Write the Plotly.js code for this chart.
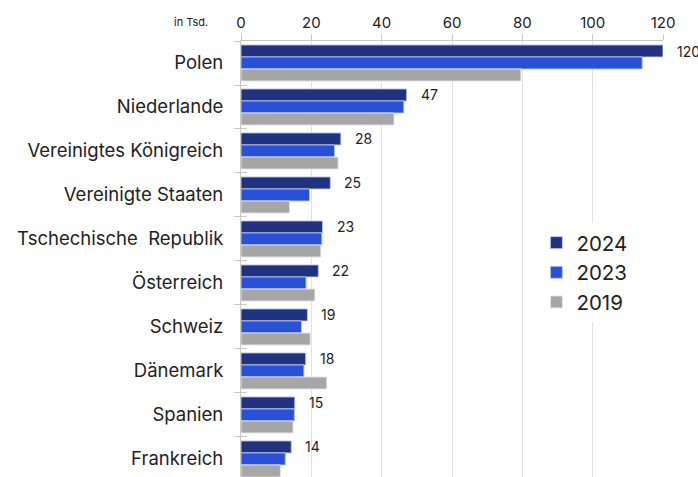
<!DOCTYPE html>
<html>
<head>
<meta charset="utf-8">
<script src="https://cdn.plot.ly/plotly-3.0.1.min.js"></script>
<style>html,body{margin:0;padding:0;background:#fff;}#chart{width:698px;height:477px;}</style>
</head>
<body>
<div id="chart"></div>
<script>
const categories = ["Polen","Niederlande","Vereinigtes Königreich","Vereinigte Staaten","Tschechische  Republik","Österreich","Schweiz","Dänemark","Spanien","Frankreich"];
const v2024 = [120, 47.1, 28.4, 25.4, 23.2, 22.0, 18.9, 18.4, 15.3, 14.3];
const v2023 = [114.1, 46.3, 26.6, 19.5, 23.0, 18.5, 17.2, 17.9, 15.2, 12.6];
const v2019 = [79.6, 43.5, 27.6, 13.8, 22.7, 21.0, 19.7, 24.4, 14.8, 11.2];
const labels2024 = ["120","47","28","25","23","22","19","18","15","14"];
const xTicks = [0, 20, 40, 60, 80, 100, 120];

const FONT = "Inter, 'Noto Sans', sans-serif";
const edge = {color: "rgba(190,200,235,0.9)", width: 1};

const traces = [
  {type:"bar", orientation:"h", name:"2024", x:v2024, y:categories, marker:{color:"#1f3380", line:edge}, hoverinfo:"x"},
  {type:"bar", orientation:"h", name:"2023", x:v2023, y:categories, marker:{color:"#2851d8", line:edge}, hoverinfo:"x"},
  {type:"bar", orientation:"h", name:"2019", x:v2019, y:categories, marker:{color:"#a6a6a6", line:{color:"rgba(230,230,230,0.9)", width:1}}, hoverinfo:"x"},
  {type:"bar", orientation:"h", x:categories.map(()=>0), y:categories, yaxis:"y2", showlegend:false, hoverinfo:"skip", marker:{opacity:0, line:{width:0}}}
];

const annotations = categories.map((c,i)=>({
  x: v2024[i], y: c, xref:"x", yref:"y", text: labels2024[i], showarrow:false,
  xanchor:"left", yanchor:"middle", xshift: 12, yshift: 12,
  font:{family:FONT, size:14, color:"#222"}
}));
annotations.push({x:0, y:1, xref:"paper", yref:"paper", text:"in Tsd.", showarrow:false,
  xanchor:"right", yanchor:"bottom", xshift:-31, yshift:10, font:{family:FONT, size:11, color:"#222"}});

const yRange = [9.41, -0.5];

const layout = {
  width:698, height:477,
  margin:{l:241, r:35, t:41, b:0},
  paper_bgcolor:"#fff", plot_bgcolor:"#fff",
  font:{family:FONT, color:"#222"},
  barmode:"group", bargap:0.18, bargroupgap:0,
  xaxis:{side:"top", range:[0,120], tickvals:xTicks, ticktext:xTicks.map(String),
    showgrid:true, gridcolor:"#e2e2e2", gridwidth:1, zeroline:false,
    showline:true, linecolor:"#c8c8c8", linewidth:1,
    ticks:"outside", ticklen:6, tickcolor:"#c8c8c8",
    tickfont:{family:FONT, size:15, color:"#222"}, fixedrange:true},
  yaxis:{type:"category", categoryorder:"array", categoryarray:categories, range:yRange,
    showgrid:false, zeroline:false, showline:true, linecolor:"#c8c8c8",
    ticks:"outside", tickson:"boundaries", ticklen:6, tickcolor:"#c8c8c8",
    tickfont:{family:FONT, size:18.5, color:"#222"}, ticklabelstandoff:13, fixedrange:true},
  yaxis2:{type:"category", categoryorder:"array", categoryarray:categories, range:yRange,
    overlaying:"y", side:"left", showgrid:false, zeroline:false, showline:false,
    ticks:"inside", tickson:"boundaries", ticklen:6, tickcolor:"#c8c8c8",
    showticklabels:false, fixedrange:true},
  legend:{x:0.70, y:0.583, xanchor:"left", yanchor:"top", bgcolor:"#fff",
    font:{family:FONT, size:20.5, color:"#222"}, traceorder:"normal", itemwidth:30},
  annotations: annotations,
  showlegend:true
};

Plotly.newPlot("chart", traces, layout, {displayModeBar:false, staticPlot:true});
</script>
</body>
</html>
